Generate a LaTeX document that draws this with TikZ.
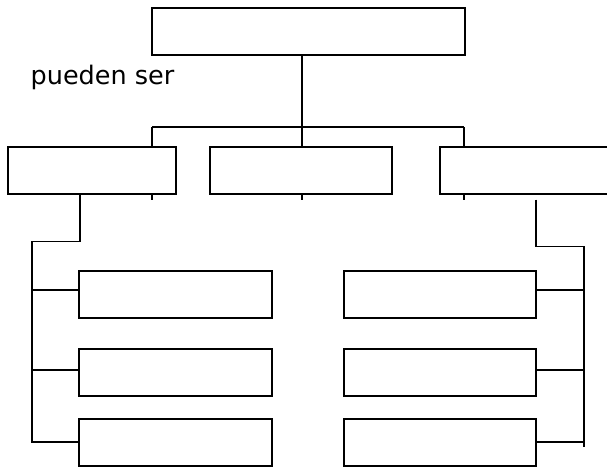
\documentclass[tikz,border=0pt]{standalone}
\usepackage{fontspec}
\setmainfont{DejaVu Sans}
\begin{document}
\begin{tikzpicture}[x=1pt,y=-1pt,
  box/.style={draw=black,fill=white,line width=2pt,inner sep=0pt,minimum height=47pt},
  link/.style={draw=black,line width=1.8pt}]
\useasboundingbox (0,0) rectangle (607,468);
\clip (0,0) rectangle (607,468);
% nodes
\node[box,minimum width=313pt] (top) at (308.5,31.5) {};
\node[box,minimum width=168pt] (m1) at (91.7,170) {};
\node[box,minimum width=182pt] (m2) at (301,170) {};
\node[box,minimum width=185pt] (m3) at (532.5,170) {};
\node[box,minimum width=193pt] (l1) at (175.8,294.8) {};
\node[box,minimum width=193pt] (l2) at (175.8,372.2) {};
\node[box,minimum width=193pt] (l3) at (175.8,442.7) {};
\node[box,minimum width=192.6pt] (r1) at (440,294.8) {};
\node[box,minimum width=192.6pt] (r2) at (440,372.2) {};
\node[box,minimum width=192.6pt] (r3) at (440,442.7) {};
\node[anchor=base west,inner sep=0pt,font=\fontsize{25.5pt}{30pt}\selectfont] (lbl) at (30.5,84.3) {pueden ser};
% coordinates
\coordinate (bar) at (301.7,127);
\coordinate (barL) at (152,127);
\coordinate (barR) at (464.3,127);
\coordinate (lbend) at (80,241.5);
\coordinate (lbus) at (32,241.5);
\coordinate (lend) at (32,443);
\coordinate (rstart) at (536,199.5);
\coordinate (rbend) at (536,246.5);
\coordinate (rbus) at (584,246.5);
\coordinate (rend) at (584,447);
% top connectors
\draw[link] (top.south -| bar) -- (bar);
\draw[link] (barL) -- (barR);
\draw[link] (barL) -- (m1.north -| barL);
\draw[link] (bar) -- (m2.north -| bar);
\draw[link] (barR) -- (m3.north -| barR);
% stubs below middle row
\draw[link] (m1.south -| barL) -- ++(0,5);
\draw[link] (m2.south -| bar) -- ++(0,5);
\draw[link] (m3.south -| barR) -- ++(0,5);
% left tree
\draw[link] (m1.south -| lbend) -- (lbend) -- (lbus) -- (lend);
\draw[link] (lbus |- 0,290.3) -- (l1.west |- 0,290.3);
\draw[link] (lbus |- 0,370.3) -- (l2.west |- 0,370.3);
\draw[link] (lbus |- 0,442.3) -- (l3.west |- 0,442.3);
% right tree
\draw[link] (rstart) -- (rbend) -- (rbus) -- (rend);
\draw[link] (rbus |- 0,290.3) -- (r1.east |- 0,290.3);
\draw[link] (rbus |- 0,370.3) -- (r2.east |- 0,370.3);
\draw[link] (rbus |- 0,442.3) -- (r3.east |- 0,442.3);
\end{tikzpicture}
\end{document}
